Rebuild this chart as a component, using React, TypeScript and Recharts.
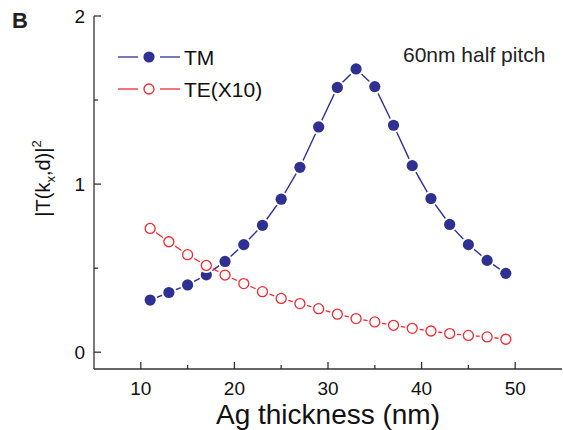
import React from "react";
import { LineChart, Line, XAxis, YAxis, Legend } from "recharts";

const THICKNESS = [11, 13, 15, 17, 19, 21, 23, 25, 27, 29, 31, 33, 35, 37, 39, 41, 43, 45, 47, 49];
const TM = [0.31, 0.355, 0.4, 0.46, 0.54, 0.64, 0.755, 0.91, 1.1, 1.34, 1.575, 1.685, 1.58, 1.35, 1.11, 0.914, 0.76, 0.64, 0.546, 0.469];
const TE = [0.736, 0.657, 0.58, 0.516, 0.459, 0.408, 0.36, 0.32, 0.289, 0.259, 0.226, 0.2, 0.18, 0.16, 0.142, 0.126, 0.111, 0.1, 0.091, 0.077];
const X_TICKS = [10, 15, 20, 25, 30, 35, 40, 45, 50];
const Y_TICKS = [0, 0.5, 1, 1.5, 2];

const TM_COLOR = "#2e3192";
const TE_COLOR = "#ed2a32";
const AXIS = "#333";
const FONT = "'Liberation Sans', Arial, Helvetica, sans-serif";

const data = THICKNESS.map((x, i) => ({ x, tm: TM[i], te: TE[i] }));

const BottomTick = ({ x, y, payload }: any) => {
  const major = payload.value % 10 === 0;
  return (
    <g>
      <line x1={x} x2={x} y1={y} y2={y - (major ? 7 : 4)} stroke={AXIS} strokeWidth={1.3} />
      {major && (
        <text x={x} y={y + 26} textAnchor="middle" fontSize={19} fontFamily={FONT} fill="#111">
          {payload.value}
        </text>
      )}
    </g>
  );
};

const TopTick = ({ x, y, payload }: any) => {
  const major = payload.value % 10 === 0;
  return <line x1={x} x2={x} y1={y} y2={y + (major ? 7 : 4)} stroke={AXIS} strokeWidth={1.3} />;
};

const LeftTick = ({ x, y, payload }: any) => {
  const major = Number.isInteger(payload.value);
  return (
    <g>
      <line x1={x} x2={x + (major ? 7 : 4)} y1={y} y2={y} stroke={AXIS} strokeWidth={1.3} />
      {major && (
        <text x={x - 9} y={y + 7} textAnchor="end" fontSize={19} fontFamily={FONT} fill="#111">
          {payload.value}
        </text>
      )}
    </g>
  );
};

const RightTick = ({ x, y, payload }: any) => {
  const major = Number.isInteger(payload.value);
  return <line x1={x} x2={x - (major ? 7 : 4)} y1={y} y2={y} stroke={AXIS} strokeWidth={1.3} />;
};

const YLabel = ({ viewBox }: any) => {
  const cx = (viewBox?.x ?? 0) + 50;
  const cy = (viewBox?.y ?? 0) + (viewBox?.height ?? 0) / 2 - 14;
  return (
    <text
      x={cx}
      y={cy}
      transform={`rotate(-90 ${cx} ${cy})`}
      textAnchor="middle"
      fontSize={20}
      fontFamily={FONT}
      fill="#111"
    >
      |T(k
      <tspan fontSize={13} dy={5}>x</tspan>
      <tspan dy={-5}>,d)|</tspan>
      <tspan fontSize={13} dy={-9}>2</tspan>
    </text>
  );
};

const TmDot = ({ cx, cy }: any) => (
  <g>
    <circle cx={cx} cy={cy} r={7.5} fill="#fff" />
    <circle cx={cx} cy={cy} r={5.6} fill={TM_COLOR} />
  </g>
);

const TeDot = ({ cx, cy }: any) => (
  <g>
    <circle cx={cx} cy={cy} r={7.5} fill="#fff" />
    <circle cx={cx} cy={cy} r={5} fill="#fff" stroke={TE_COLOR} strokeWidth={1.3} />
  </g>
);

const LegendBox = () => (
  <svg width={180} height={64}>
    <line x1={8} x2={28} y1={17} y2={17} stroke={TM_COLOR} strokeWidth={1.3} />
    <line x1={50} x2={70} y1={17} y2={17} stroke={TM_COLOR} strokeWidth={1.3} />
    <circle cx={39} cy={17} r={5.6} fill={TM_COLOR} />
    <text x={74} y={24.5} fontSize={21} fontFamily={FONT} fill="#111">TM</text>
    <line x1={8} x2={28} y1={49} y2={49} stroke={TE_COLOR} strokeWidth={1.3} />
    <line x1={50} x2={70} y1={49} y2={49} stroke={TE_COLOR} strokeWidth={1.3} />
    <circle cx={39} cy={49} r={5} fill="#fff" stroke={TE_COLOR} strokeWidth={1.3} />
    <text x={74} y={56.5} fontSize={21} fontFamily={FONT} fill="#111">TE(X10)</text>
  </svg>
);

export default function App() {
  return (
    <div style={{ position: "absolute", left: 0, top: 0, width: 563, height: 430, background: "#fff" }}>
      <LineChart width={563} height={430} data={data} margin={{ top: 16, right: 1, left: 0, bottom: 0 }}>
        <XAxis
          xAxisId="b"
          dataKey="x"
          type="number"
          domain={[5, 55]}
          ticks={X_TICKS}
          height={61}
          tickSize={0}
          tickMargin={0}
          tickLine={false}
          tick={<BottomTick />}
          axisLine={{ stroke: AXIS, strokeWidth: 1.3 }}
          label={{ value: "Ag thickness (nm)", position: "insideBottom", offset: 6, fontSize: 28, fontFamily: FONT, fill: "#111" }}
        />
        <XAxis
          xAxisId="t"
          orientation="top"
          dataKey="x"
          type="number"
          domain={[5, 55]}
          ticks={X_TICKS}
          height={0}
          tickSize={0}
          tickMargin={0}
          tickLine={false}
          tick={<TopTick />}
          axisLine={{ stroke: AXIS, strokeWidth: 1.3 }}
        />
        <YAxis
          yAxisId="l"
          type="number"
          domain={[-0.1, 2]}
          ticks={Y_TICKS}
          width={94}
          tickSize={0}
          tickMargin={0}
          tickLine={false}
          tick={<LeftTick />}
          axisLine={{ stroke: AXIS, strokeWidth: 1.3 }}
          label={<YLabel />}
        />
        <YAxis
          yAxisId="r"
          orientation="right"
          type="number"
          domain={[-0.1, 2]}
          ticks={Y_TICKS}
          width={0}
          tickSize={0}
          tickMargin={0}
          tickLine={false}
          tick={<RightTick />}
          axisLine={{ stroke: AXIS, strokeWidth: 1.3 }}
        />
        <Legend
          layout="vertical"
          align="center"
          verticalAlign="middle"
          content={() => <LegendBox />}
          wrapperStyle={{ left: 110, top: 40, width: 180, height: 64 }}
        />
        <Line
          xAxisId="b"
          yAxisId="l"
          dataKey="tm"
          name="TM"
          stroke={TM_COLOR}
          strokeWidth={1.4}
          dot={<TmDot />}
          activeDot={false}
          isAnimationActive={false}
        />
        <Line
          xAxisId="b"
          yAxisId="l"
          dataKey="te"
          name="TE(X10)"
          stroke={TE_COLOR}
          strokeWidth={1.3}
          dot={<TeDot />}
          activeDot={false}
          isAnimationActive={false}
        />
      </LineChart>
      <svg width={563} height={430} style={{ position: "absolute", left: 0, top: 0, pointerEvents: "none" }}>
        <text x={12} y={28} fontSize={22} fontWeight="bold" fontFamily={FONT} fill="#222">B</text>
        <text x={403} y={62} fontSize={21} fontFamily={FONT} fill="#222">60nm half pitch</text>
      </svg>
    </div>
  );
}
